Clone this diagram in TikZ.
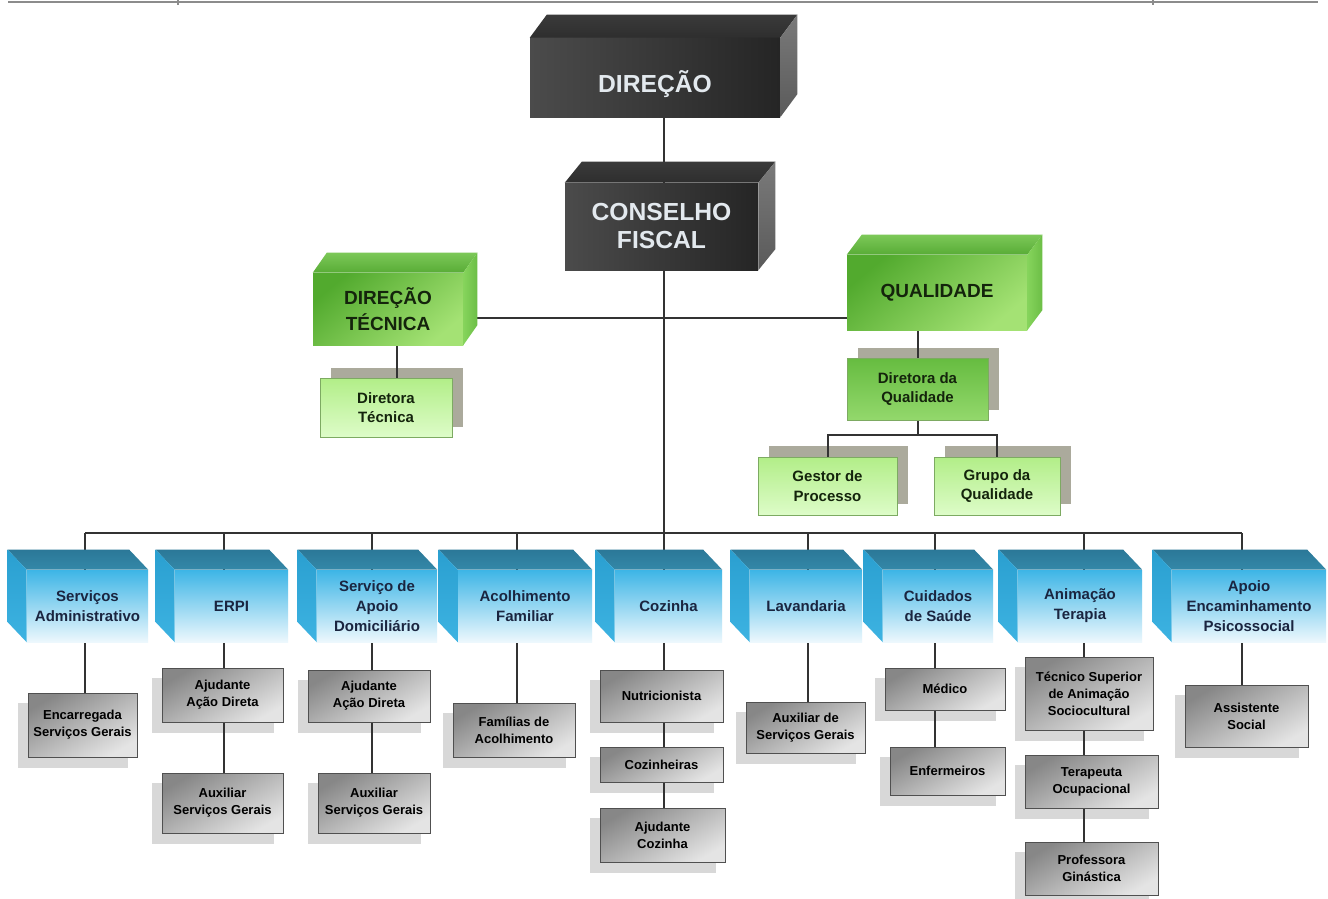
\documentclass[tikz,border=0pt]{standalone}
\usepackage{fontspec}
\setmainfont{Liberation Sans}
\usetikzlibrary{calc}

\definecolor{wirec}{HTML}{333333}
\definecolor{framec}{HTML}{8C8C8C}
% dark boxes
\definecolor{dkL}{HTML}{4B4B4B}
\definecolor{dkR}{HTML}{252525}
\definecolor{dkT1}{HTML}{3A3A3A}
\definecolor{dkT2}{HTML}{2E2E2E}
\definecolor{dkS1}{HTML}{5A5A5A}
\definecolor{dkS2}{HTML}{7A7A7A}
\definecolor{dktext}{HTML}{E3E9EE}
% green boxes
\definecolor{gF1}{HTML}{52AA2E}
\definecolor{gF2}{HTML}{A4E274}
\definecolor{gT1}{HTML}{7CC858}
\definecolor{gT2}{HTML}{58AC36}
\definecolor{gS1}{HTML}{86D45C}
\definecolor{gS2}{HTML}{6CBE46}
\definecolor{gtext}{HTML}{14240C}
\definecolor{lg1}{HTML}{B2EE88}
\definecolor{lg2}{HTML}{DDFCC8}
\definecolor{lgB}{HTML}{7DAA62}
\definecolor{mg1}{HTML}{66BC40}
\definecolor{mg2}{HTML}{93D86C}
\definecolor{gshadow}{HTML}{ABAA9C}
% blue boxes
\definecolor{bF1}{HTML}{3DB5E6}
\definecolor{bF2}{HTML}{EDF8FD}
\definecolor{bT1}{HTML}{2B7898}
\definecolor{bT2}{HTML}{3488A8}
\definecolor{bS1}{HTML}{2A9FD0}
\definecolor{bS2}{HTML}{3DB3E2}
\definecolor{btext}{HTML}{1A2540}
% gray boxes
\definecolor{gr1}{HTML}{878787}
\definecolor{gr2}{HTML}{E4E4E4}
\definecolor{grB}{HTML}{505050}
\definecolor{grshadow}{HTML}{D8D8D8}

\pgfdeclarelayer{paper}
\pgfdeclarelayer{shade}
\pgfdeclarelayer{wires}
\pgfsetlayers{paper,shade,wires,main}

% top and right-hand faces of a block whose front face is node #1
\newcommand\cuberight[5]{%
  \shade[#4] (#1.north west) -- ++(#2,#3) -- ($(#1.north east)+(#2,#3)$) -- (#1.north east) -- cycle;
  \shade[#5] (#1.north east) -- ++(#2,#3) -- ($(#1.south east)+(#2,#3)$) -- (#1.south east) -- cycle;}
% top and left-hand faces of a block whose front face is node #1
\newcommand\cubeleft[5]{%
  \shade[#4] (#1.north west) -- ++(#2,#3) -- ($(#1.north east)+(#2,#3)$) -- (#1.north east) -- cycle;
  \shade[#5] (#1.north west) -- ++(#2,#3) -- ($(#1.south west)+(#2,#3)$) -- (#1.south west) -- cycle;}
% flat shadow behind node #1, offset by (#2,#3)
\newcommand\flatshadow[4]{%
  \begin{pgfonlayer}{shade}
    \fill[#4] ($(#1.north west)+(#2,#3)$) rectangle ($(#1.south east)+(#2,#3)$);
  \end{pgfonlayer}}

\begin{document}
\begin{tikzpicture}[x=0.75pt,y=-0.75pt,
  sz/.style 2 args={minimum width=#1*0.75pt, minimum height=#2*0.75pt},
  wire/.style={draw=wirec, line width=1.5pt},
  darkfront/.style={inner sep=0pt, left color=dkL, right color=dkR, text=dktext, align=center,
    font=\bfseries\fontsize{18.5}{21}\selectfont},
  darktop/.style={top color=dkT1, bottom color=dkT2},
  darkside/.style={top color=dkS2, bottom color=dkS1},
  greenfront/.style={inner sep=0pt, top color=gF1, bottom color=gF2, shading angle=40, text=gtext, align=center,
    font=\bfseries\fontsize{14.25}{20}\selectfont},
  greentop/.style={top color=gT1, bottom color=gT2},
  greenside/.style={left color=gS1, right color=gS2},
  bluefront/.style={inner sep=0pt, top color=bF1, bottom color=bF2, text=btext, align=center,
    font=\bfseries\fontsize{11.25}{15}\selectfont},
  bluetop/.style={top color=bT1, bottom color=bT2},
  blueside/.style={top color=bS1, bottom color=bS2},
  lightgreen/.style={inner sep=0pt, draw=lgB, line width=0.6pt, top color=lg1, bottom color=lg2, text=gtext,
    align=center, font=\bfseries\fontsize{11.25}{14.5}\selectfont},
  midgreen/.style={lightgreen, top color=mg1, bottom color=mg2},
  graybox/.style={inner sep=0pt, draw=grB, line width=0.75pt, top color=gr1, bottom color=gr2, shading angle=30,
    text=black, align=center, font=\bfseries\fontsize{9.75}{12.75}\selectfont},
]
\useasboundingbox (0,0) rectangle (1328,899);
\begin{pgfonlayer}{paper}
  \fill[white] (0,0) rectangle (1328,899);
\end{pgfonlayer}

% page frame rule along the top
\draw[draw=framec, line width=1.5pt] (8,2.5) -- (1318,2.5);
\draw[draw=framec, line width=1pt] (178,0) -- (178,5) (1153,0) -- (1153,5);

% ---- governing bodies
\node[darkfront, sz={250}{79}] (dir) at (655,77.5) {\raisebox{-11pt}[0pt][0pt]{DIREÇÃO}};
\node[darkfront, sz={193}{87}] (cf) at (661.5,226.5) {CONSELHO\\FISCAL};
\cuberight{dir}{17}{-23}{darktop}{darkside}
\cuberight{cf}{17}{-21}{darktop}{darkside}

% ---- technical direction and quality
\node[greenfront, sz={150}{72}] (dt) at (388,309) {DIREÇÃO\\TÉCNICA};
\node[greenfront, sz={180}{75}] (q) at (937,292.5) {QUALIDADE};
\cuberight{dt}{14}{-20}{greentop}{greenside}
\cuberight{q}{15}{-20}{greentop}{greenside}

\node[lightgreen, sz={132}{59}] (dtec) at (386,407.5) {Diretora\\Técnica};
\node[midgreen, sz={141}{62}] (dq) at (917.5,389) {Diretora da\\Qualidade};
\node[lightgreen, sz={139}{58}] (gp) at (827.5,486) {Gestor de\\Processo};
\node[lightgreen, sz={126}{58}] (gq) at (997,486) {Grupo da\\Qualidade};
\flatshadow{dtec}{11}{-10}{gshadow}
\flatshadow{dq}{11}{-10}{gshadow}
\flatshadow{gp}{11}{-11}{gshadow}
\flatshadow{gq}{11}{-11}{gshadow}

% ---- services
\node[bluefront, sz={121}{72}] (sa) at (87.5,606) {Serviços\\Administrativo};
\node[bluefront, sz={113}{72}] (erpi) at (231.5,606) {ERPI};
\node[bluefront, sz={120}{72}] (sad) at (377,606) {Serviço de\\Apoio\\Domiciliário};
\node[bluefront, sz={134}{72}] (af) at (525,606) {Acolhimento\\Familiar};
\node[bluefront, sz={107}{72}] (coz) at (668.5,606) {Cozinha};
\node[bluefront, sz={112}{72}] (lav) at (806,606) {Lavandaria};
\node[bluefront, sz={110}{72}] (cs) at (938,606) {Cuidados\\de Saúde};
\node[bluefront, sz={124}{72}] (at) at (1080,606) {Animação\\Terapia};
\node[bluefront, sz={154}{72}] (aep) at (1249,606) {Apoio\\Encaminhamento\\Psicossocial};
\foreach \b in {sa,erpi,sad,af,coz,lav,cs,at,aep}{\cubeleft{\b}{-19}{-20}{bluetop}{blueside}}

% ---- staff
\node[graybox, sz={109}{64}] (enc) at (82.5,725) {Encarregada\\Serviços Gerais};
\node[graybox, sz={121}{54}] (aad1) at (222.5,695) {Ajudante\\Ação Direta};
\node[graybox, sz={121}{60}] (asg1) at (222.5,803) {Auxiliar\\Serviços Gerais};
\node[graybox, sz={122}{52}] (aad2) at (369,696) {Ajudante\\Ação Direta};
\node[graybox, sz={112}{60}] (asg2) at (374,803) {Auxiliar\\Serviços Gerais};
\node[graybox, sz={122}{54}] (fam) at (514,730) {Famílias de\\Acolhimento};
\node[graybox, sz={123}{52}] (nut) at (661.5,696) {Nutricionista};
\node[graybox, sz={123}{35}] (cozh) at (661.5,764.5) {Cozinheiras};
\node[graybox, sz={125}{54}] (ajc) at (662.5,835) {Ajudante\\Cozinha};
\node[graybox, sz={119}{51}] (adsg) at (805.5,727.5) {Auxiliar de\\Serviços Gerais};
\node[graybox, sz={120}{42}] (med) at (945,689) {Médico};
\node[graybox, sz={115}{48}] (enf) at (947.5,771) {Enfermeiros};
\node[graybox, sz={128}{73}] (tsa) at (1089,693.5) {Técnico Superior\\de Animação\\Sociocultural};
\node[graybox, sz={133}{53}] (tocp) at (1091.5,781.5) {Terapeuta\\Ocupacional};
\node[graybox, sz={133}{53}] (pg) at (1091.5,868.5) {Professora\\Ginástica};
\node[graybox, sz={123}{62}] (as) at (1246.5,716) {Assistente\\Social};
\foreach \g in {enc,aad1,asg1,aad2,asg2,fam,nut,cozh,ajc,adsg,med,enf,tsa,tocp,pg,as}{\flatshadow{\g}{-10}{10}{grshadow}}

% ---- connectors
\coordinate (hub) at (664,318);
\coordinate (dtx) at (397,345);
\coordinate (qsplit) at (917.5,435);
\coordinate (c1) at (85,533);
\coordinate (c2) at (224,533);
\coordinate (c3) at (372,533);
\coordinate (c4) at (517,533);
\coordinate (c5) at (664,533);
\coordinate (c6) at (808,533);
\coordinate (c7) at (935,533);
\coordinate (c8) at (1084,533);
\coordinate (c9) at (1242,533);

\begin{pgfonlayer}{wires}
  \draw[wire] (hub |- dir.south) -- (hub |- cf.north);
  \draw[wire] (hub |- cf.south) -- (c5);
  \draw[wire] (hub -| dt.east) -- (hub -| q.west);
  \draw[wire] (dtx |- dt.south) -- (dtx |- dtec.north);
  \draw[wire] (dq.north |- q.south) -- (dq.north);
  \draw[wire] (dq.south) -- (qsplit);
  \draw[wire] (gp.north) |- (qsplit) -| (gq.north);
  \draw[wire] (c1) -- (c9);
  \draw[wire] (c1) -- (c1 |- sa.north);
  \draw[wire] (c2) -- (c2 |- erpi.north);
  \draw[wire] (c3) -- (c3 |- sad.north);
  \draw[wire] (c4) -- (c4 |- af.north);
  \draw[wire] (c5) -- (c5 |- coz.north);
  \draw[wire] (c6) -- (c6 |- lav.north);
  \draw[wire] (c7) -- (c7 |- cs.north);
  \draw[wire] (c8) -- (c8 |- at.north);
  \draw[wire] (c9) -- (c9 |- aep.north);
  \draw[wire] (c1 |- sa.south) -- (c1 |- enc.north);
  \draw[wire] (c2 |- erpi.south) -- (c2 |- aad1.north);
  \draw[wire] (c2 |- aad1.south) -- (c2 |- asg1.north);
  \draw[wire] (c3 |- sad.south) -- (c3 |- aad2.north);
  \draw[wire] (c3 |- aad2.south) -- (c3 |- asg2.north);
  \draw[wire] (c4 |- af.south) -- (c4 |- fam.north);
  \draw[wire] (c5 |- coz.south) -- (c5 |- nut.north);
  \draw[wire] (c5 |- nut.south) -- (c5 |- cozh.north);
  \draw[wire] (c5 |- cozh.south) -- (c5 |- ajc.north);
  \draw[wire] (c6 |- lav.south) -- (c6 |- adsg.north);
  \draw[wire] (c7 |- cs.south) -- (c7 |- med.north);
  \draw[wire] (c7 |- med.south) -- (c7 |- enf.north);
  \draw[wire] (c8 |- at.south) -- (c8 |- tsa.north);
  \draw[wire] (c8 |- tsa.south) -- (c8 |- tocp.north);
  \draw[wire] (c8 |- tocp.south) -- (c8 |- pg.north);
  \draw[wire] (c9 |- aep.south) -- (c9 |- as.north);
\end{pgfonlayer}
\end{tikzpicture}
\end{document}
